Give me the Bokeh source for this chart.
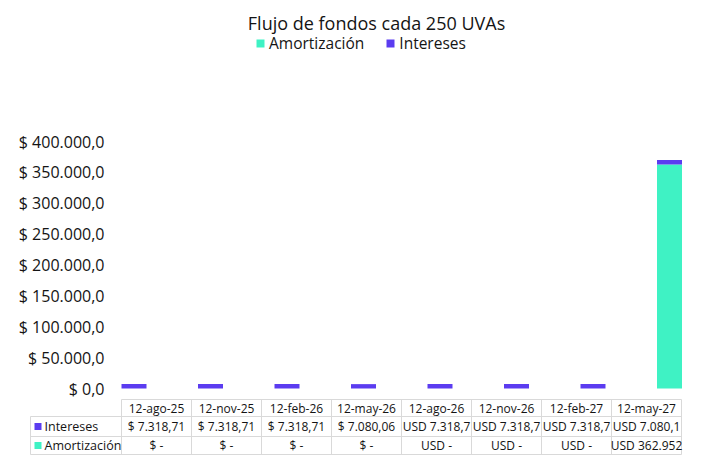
from bokeh.plotting import figure
from bokeh.models import Range1d, Label, Legend, LegendItem, ColumnDataSource
from bokeh.embed import file_html
from bokeh.resources import INLINE
from bokeh.core.properties import value

# ---------------- data ----------------
fechas = ["12-ago-25", "12-nov-25", "12-feb-26", "12-may-26",
          "12-ago-26", "12-nov-26", "12-feb-27", "12-may-27"]
intereses = [7318.71, 7318.71, 7318.71, 7080.06, 7318.7, 7318.7, 7318.7, 7080.1]
amortizacion = [0, 0, 0, 0, 0, 0, 0, 362952]
intereses_txt = ["$ 7.318,71", "$ 7.318,71", "$ 7.318,71", "$ 7.080,06",
                 "USD 7.318,7", "USD 7.318,7", "USD 7.318,7", "USD 7.080,1"]
amortizacion_txt = ["$ -", "$ -", "$ -", "$ -", "USD -", "USD -", "USD -", "USD 362.952"]
y_ticks = [0, 50000, 100000, 150000, 200000, 250000, 300000, 350000, 400000]
y_tick_labels = ["$ 0,0", "$ 50.000,0", "$ 100.000,0", "$ 150.000,0", "$ 200.000,0",
                 "$ 250.000,0", "$ 300.000,0", "$ 350.000,0", "$ 400.000,0"]
titulo = "Flujo de fondos cada 250 UVAs"

TEAL = "#3ff2c4"
PURPLE = "#5b3cf0"
FONT = "Open Sans"
TXT = "#141414"
GRID = "#d9d9d9"

# ---------------- geometry (page pixels) ----------------
W, H = 712, 474
left, top = 0, 0
right, bottom = left + W, top + H
unit_px = 76.5          # distance between bar centres
first_center = 133.5    # centre of first bar
zero_y = 388            # baseline of bars
px_per_val = 247 / 400000

x_start = -(first_center - left) / unit_px
x_end = x_start + W / unit_px
y_start = -(bottom - zero_y) / px_per_val
y_end = (zero_y - top) / px_per_val

p = figure(width=W, height=H, output_backend="svg", toolbar_location=None,
           x_range=Range1d(x_start, x_end), y_range=Range1d(y_start, y_end),
           min_border=0)
p.extra_x_ranges = {"px": Range1d(left, right)}
p.extra_y_ranges = {"py": Range1d(bottom, top)}
p.axis.visible = False
p.grid.visible = False
p.outline_line_color = None
p.background_fill_color = "white"
p.border_fill_color = "white"

# bars
src = ColumnDataSource(dict(x=list(range(len(fechas))), Amortización=amortizacion,
                            Intereses=intereses))
rs = p.vbar_stack(["Amortización", "Intereses"], x="x", width=25 / unit_px,
                  color=[TEAL, PURPLE], line_color=None, source=src)

# value-axis tick labels (placed at the tick values on the y scale)
p.text(x=[104] * len(y_ticks), y=y_ticks, text=y_tick_labels, x_range_name="px",
       text_align="right", text_baseline="middle", text_font=value(FONT),
       text_font_size="16px", text_color=TXT)

# title
p.add_layout(Label(x=376 - left, y=bottom - 22, x_units="screen", y_units="screen",
                   text=titulo, text_align="center", text_baseline="middle",
                   text_font=FONT, text_font_size="18px", text_color=TXT))

# legend
legend = Legend(items=[LegendItem(label="Amortización", renderers=[rs[0]]),
                       LegendItem(label="Intereses", renderers=[rs[1]])],
                orientation="horizontal",
                location=(255 - left, bottom - 54),
                background_fill_alpha=0, border_line_color=None,
                label_text_font=FONT, label_text_font_size="15.5px", label_text_color=TXT,
                glyph_width=10, glyph_height=10, spacing=21, padding=0, margin=0,
                label_standoff=4, label_height=18)
p.add_layout(legend, "center")

# ---------------- data table ----------------
col_x = [121 + i * 70 for i in range(len(fechas) + 1)]
row_y = [399, 416, 436, 454]
label_left = 30

x0, y0, x1, y1 = [], [], [], []
x0 += [col_x[0], label_left, label_left, label_left]
x1 += [col_x[-1]] * 4
y0 += row_y
y1 += row_y
for cx in col_x:
    x0.append(cx); x1.append(cx); y0.append(row_y[0]); y1.append(row_y[-1])
x0.append(label_left); x1.append(label_left); y0.append(row_y[1]); y1.append(row_y[-1])
p.segment(x0=x0, y0=y0, x1=x1, y1=y1, line_color=GRID, line_width=1,
          x_range_name="px", y_range_name="py")

centers = [(col_x[i] + col_x[i + 1]) / 2 for i in range(len(fechas))]
mids = [(row_y[i] + row_y[i + 1]) / 2 for i in range(3)]
for r, labels in enumerate([fechas, intereses_txt, amortizacion_txt]):
    p.text(x=centers, y=[mids[r]] * len(centers), text=labels, text_align="center",
           text_baseline="middle", text_font=value(FONT), text_font_size="12px",
           text_color=TXT, x_range_name="px", y_range_name="py")

p.rect(x=[37.5, 37.5], y=mids[1:], width=7, height=7, fill_color=[PURPLE, TEAL],
       line_color=None, x_range_name="px", y_range_name="py")
p.text(x=[44, 44], y=mids[1:], text=["Intereses", "Amortización"], text_align="left",
       text_baseline="middle", text_font=value(FONT), text_font_size="12.5px",
       text_color=TXT, x_range_name="px", y_range_name="py")

open("out.html", "w").write(file_html(p, INLINE))
